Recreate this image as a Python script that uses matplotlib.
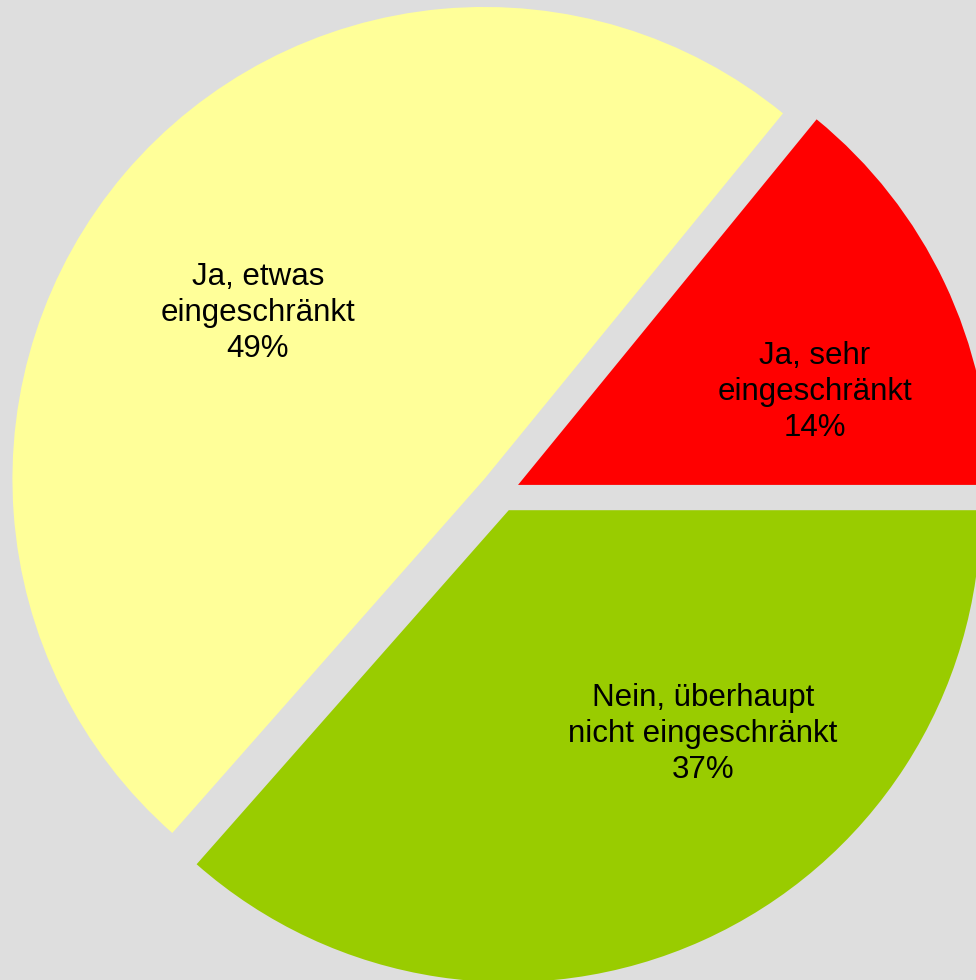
import matplotlib
matplotlib.use("Agg")
import matplotlib.pyplot as plt

# slice data (counterclockwise from 3 o'clock)
labels = ["Ja, sehr\neingeschränkt", "Ja, etwas\neingeschränkt", "Nein, überhaupt\nnicht eingeschränkt"]
values = [14.1, 49.4, 36.5]
pct_text = ["14%", "49%", "37%"]
colors = ["#FF0000", "#FFFF99", "#99CC00"]
explode = [0.04, 0.046, 0.04]

# label anchor points (data coords, pie radius = 1)
label_pos = [(0.665, 0.213), (-0.515, 0.381), (0.428, -0.511)]

plt.rcParams['font.family'] = ['Liberation Sans', 'DejaVu Sans']

fig = plt.figure(figsize=(9.76, 9.8), dpi=100)
fig.patch.set_facecolor("#DEDEDE")
ax = fig.add_axes([0, 0, 1, 1])
ax.set_facecolor("#DEDEDE")

wedges, _ = ax.pie(values, colors=colors, explode=explode, startangle=0,
                   counterclock=True, radius=1.0,
                   wedgeprops=dict(linewidth=0))

for (x, y), lab, pct in zip(label_pos, labels, pct_text):
    ax.text(x, y, lab + "\n" + pct, ha="center", va="center",
            fontsize=22.5, linespacing=1.26, color="black")

ax.set_aspect("auto")
ax.set_xlim(-1.0614, 1.0064)
ax.set_ylim(-1.0318, 1.0445)
ax.axis("off")

fig.savefig("out.png", dpi=100, facecolor=fig.get_facecolor())
